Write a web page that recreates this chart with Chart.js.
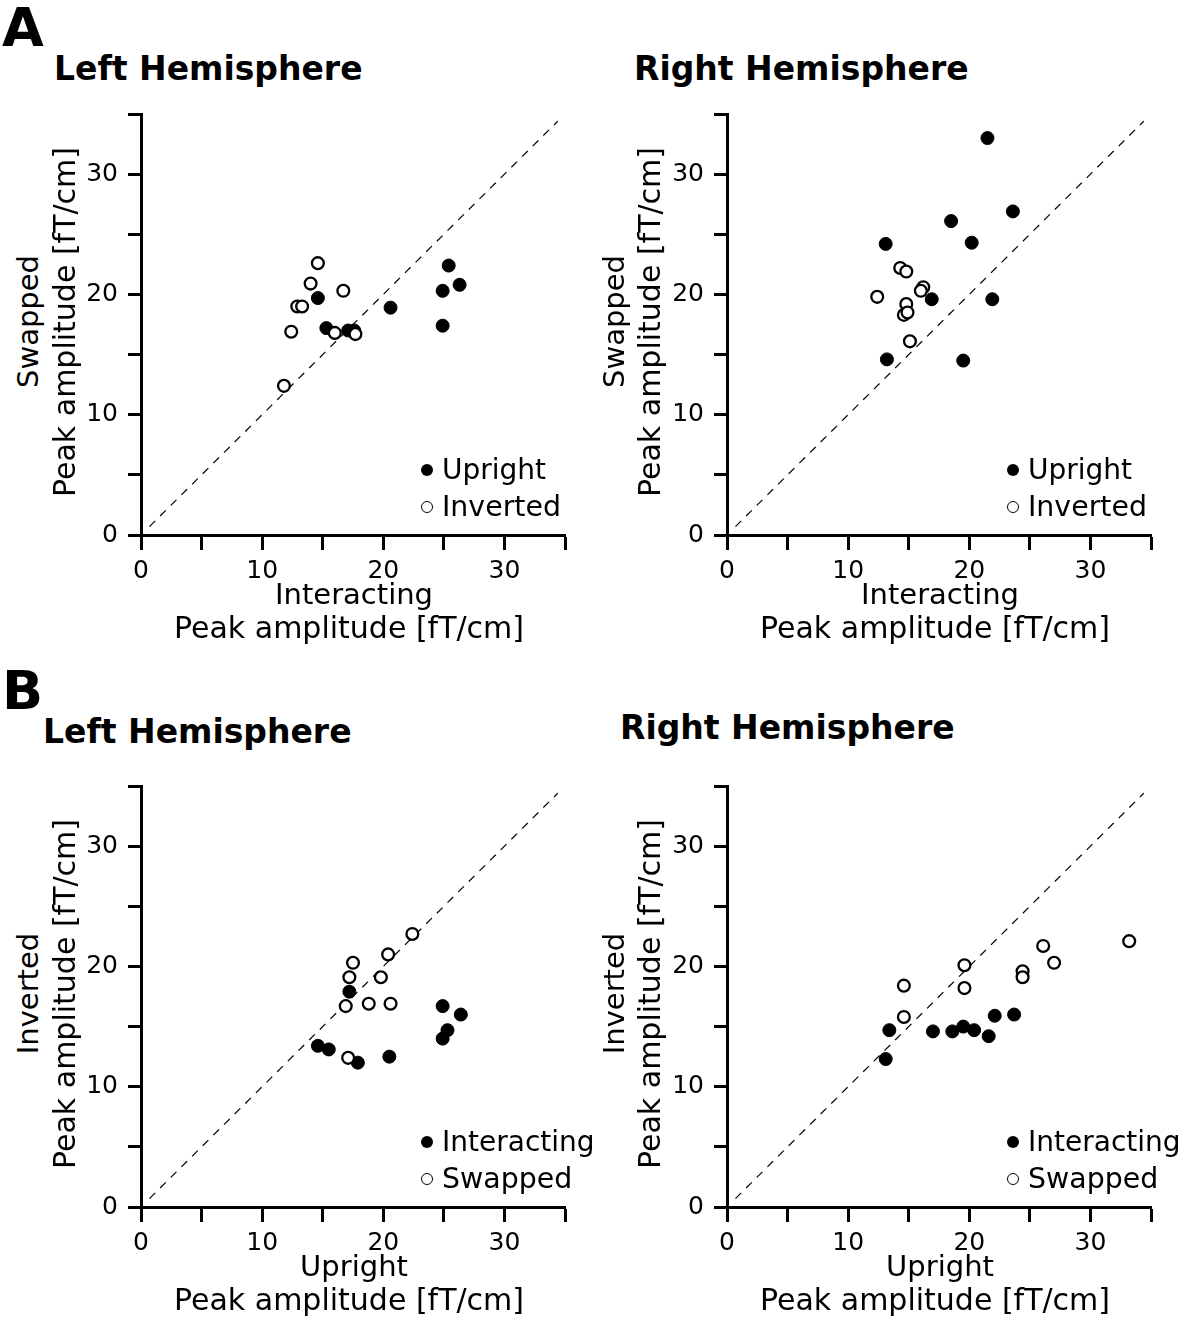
<!DOCTYPE html>
<html>
<head>
<meta charset="utf-8">
<script src="https://cdn.jsdelivr.net/npm/chart.js@4/dist/chart.umd.min.js"></script>
<style>
  body { margin: 0; background: #fff; }
  #page { position: relative; width: 1182px; height: 1318px; overflow: hidden; background: #fff;
          font-family: 'DejaVu Sans', Verdana, sans-serif; color: #000; }
  .txt { position: absolute; white-space: nowrap; line-height: 1; }
  .bold { font-weight: bold; }
  canvas { position: absolute; }
  .dot { position: absolute; border-radius: 50%; box-sizing: border-box; }
</style>
</head>
<body>
<div id="page"></div>
<script>
// ticks shared by every axis
const tickValues = [0, 5, 10, 15, 20, 25, 30, 35];
const tickLabels = ['0', '', '10', '', '20', '', '30', ''];

// A, left hemisphere: Interacting (x) vs Swapped (y)
const aLeftUprightX = [14.6, 15.3, 17.1, 17.6, 20.6, 25.4, 26.3, 24.9, 24.9];
const aLeftUprightY = [19.7, 17.2, 17.0, 17.0, 18.9, 22.4, 20.8, 20.3, 17.4];
const aLeftInvertedX = [14.6, 14.0, 16.7, 12.9, 13.3, 12.4, 16.0, 17.7, 11.8];
const aLeftInvertedY = [22.6, 20.9, 20.3, 19.0, 19.0, 16.9, 16.8, 16.7, 12.4];

// A, right hemisphere
const aRightUprightX = [21.5, 23.6, 18.5, 20.2, 13.1, 16.9, 21.9, 13.2, 19.5];
const aRightUprightY = [33.0, 26.9, 26.1, 24.3, 24.2, 19.6, 19.6, 14.6, 14.5];
const aRightInvertedX = [14.3, 14.8, 16.2, 16.0, 12.4, 14.8, 14.6, 14.9, 15.1];
const aRightInvertedY = [22.2, 21.9, 20.6, 20.3, 19.8, 19.2, 18.3, 18.5, 16.1];

// B, left hemisphere: Upright (x) vs Inverted (y)
const bLeftInteractingX = [17.2, 24.9, 26.4, 25.3, 24.9, 14.6, 15.5, 17.9, 20.5];
const bLeftInteractingY = [17.9, 16.7, 16.0, 14.7, 14.0, 13.4, 13.1, 12.0, 12.5];
const bLeftSwappedX = [22.4, 20.4, 17.5, 17.2, 19.8, 16.9, 18.8, 20.6, 17.1];
const bLeftSwappedY = [22.7, 21.0, 20.3, 19.1, 19.1, 16.7, 16.9, 16.9, 12.4];

// B, right hemisphere
const bRightInteractingX = [13.1, 13.4, 17.0, 18.6, 19.5, 20.4, 21.6, 22.1, 23.7];
const bRightInteractingY = [12.3, 14.7, 14.6, 14.6, 15.0, 14.7, 14.2, 15.9, 16.0];
const bRightSwappedX = [33.2, 26.1, 27.0, 24.4, 24.4, 19.6, 19.6, 14.6, 14.6];
const bRightSwappedY = [22.1, 21.7, 20.3, 19.6, 19.1, 20.1, 18.2, 18.4, 15.8];

const diagonal = [0.7, 34.4];

const panels = [
  { area: { left: 141, top: 114, right: 565, bottom: 535 }, title: 'Left Hemisphere', titleX: 54, titleBase: 80,
    xTitle: 'Interacting', yTitle: 'Swapped', filledName: 'Upright', openName: 'Inverted',
    filledX: aLeftUprightX, filledY: aLeftUprightY, openX: aLeftInvertedX, openY: aLeftInvertedY },
  { area: { left: 727, top: 114, right: 1151, bottom: 535 }, title: 'Right Hemisphere', titleX: 634, titleBase: 80,
    xTitle: 'Interacting', yTitle: 'Swapped', filledName: 'Upright', openName: 'Inverted',
    filledX: aRightUprightX, filledY: aRightUprightY, openX: aRightInvertedX, openY: aRightInvertedY },
  { area: { left: 141, top: 786, right: 565, bottom: 1207 }, title: 'Left Hemisphere', titleX: 43, titleBase: 743,
    xTitle: 'Upright', yTitle: 'Inverted', filledName: 'Interacting', openName: 'Swapped',
    filledX: bLeftInteractingX, filledY: bLeftInteractingY, openX: bLeftSwappedX, openY: bLeftSwappedY },
  { area: { left: 727, top: 786, right: 1151, bottom: 1207 }, title: 'Right Hemisphere', titleX: 620, titleBase: 739,
    xTitle: 'Upright', yTitle: 'Inverted', filledName: 'Interacting', openName: 'Swapped',
    filledX: bRightInteractingX, filledY: bRightInteractingY, openX: bRightSwappedX, openY: bRightSwappedY },
];

const page = document.getElementById('page');
const Y_AXIS_W = 61;
const X_AXIS_H = 60;
const PAD_TOP = 12;
const PAD_RIGHT = 16;

function main() {
  Chart.defaults.font.family = "'DejaVu Sans', Verdana, sans-serif";
  Chart.defaults.color = '#000';

  addText('A', 2, 47, 54, true);
  addText('B', 2, 710, 54, true);

  panels.forEach(drawPanel);
}

function toPoints(xs, ys) {
  return xs.map((x, i) => ({ x: x, y: ys[i] }));
}

function addText(text, left, baseline, size, bold) {
  const el = document.createElement('div');
  el.className = 'txt' + (bold ? ' bold' : '');
  el.textContent = text;
  el.style.fontSize = size + 'px';
  el.style.left = left + 'px';
  el.style.top = (baseline - 0.846 * size) + 'px';
  page.appendChild(el);
  return el;
}

function addCenteredText(text, cx, baseline, size) {
  const el = document.createElement('div');
  el.className = 'txt';
  el.textContent = text;
  el.style.fontSize = size + 'px';
  el.style.width = '600px';
  el.style.textAlign = 'center';
  el.style.left = (cx - 300) + 'px';
  el.style.top = (baseline - 0.846 * size) + 'px';
  page.appendChild(el);
}

function addRotatedText(text, capLeft, cy, size) {
  // rotated -90deg: glyph tops face left
  const el = document.createElement('div');
  el.className = 'txt';
  el.textContent = text;
  el.style.fontSize = size + 'px';
  el.style.width = '600px';
  el.style.height = size + 'px';
  el.style.textAlign = 'center';
  const cx = capLeft + 0.383 * size;
  el.style.left = (cx - 300) + 'px';
  el.style.top = (cy - size / 2) + 'px';
  el.style.transform = 'rotate(-90deg)';
  page.appendChild(el);
}

function addDot(cx, cy, filled) {
  const el = document.createElement('div');
  el.className = 'dot';
  const d = filled ? 12.5 : 12;
  el.style.width = d + 'px';
  el.style.height = d + 'px';
  el.style.left = (cx - d / 2) + 'px';
  el.style.top = (cy - d / 2) + 'px';
  el.style.background = filled ? '#000' : '#fff';
  if (!filled) el.style.border = '1.8px solid #000';
  page.appendChild(el);
}

function axisOptions(tickLength, padding, isX) {
  return {
    type: 'linear',
    min: 0,
    max: 35,
    afterFit: (s) => {
      // fixed box sizes so the plot area lands where the reference has it
      if (isX) s.height = X_AXIS_H; else s.width = Y_AXIS_W;
      s.paddingTop = 0;
      s.paddingBottom = 0;
      s.paddingLeft = 0;
      s.paddingRight = 0;
    },
    afterBuildTicks: (s) => { s.ticks = tickValues.map(v => ({ value: v })); },
    ticks: {
      autoSkip: false,
      maxRotation: 0,
      padding: padding,
      font: { size: 25 },
      color: '#000',
      callback: (value) => tickLabels[tickValues.indexOf(value)] ?? '',
    },
    grid: {
      display: true,
      drawOnChartArea: false,
      drawTicks: true,
      tickLength: tickLength,
      tickWidth: 3,
      tickColor: '#000',
    },
    border: { display: true, width: 3, color: '#000' },
  };
}

function drawPanel(p) {
  const a = p.area;
  const canvasLeft = a.left - Y_AXIS_W;
  const canvasTop = a.top - PAD_TOP;
  const width = a.right + PAD_RIGHT - canvasLeft;
  const height = a.bottom + X_AXIS_H - canvasTop;

  const canvas = document.createElement('canvas');
  canvas.width = width;
  canvas.height = height;
  canvas.style.left = canvasLeft + 'px';
  canvas.style.top = canvasTop + 'px';
  canvas.style.width = width + 'px';
  canvas.style.height = height + 'px';
  page.appendChild(canvas);

  new Chart(canvas, {
    type: 'scatter',
    data: {
      datasets: [
        {
          label: p.openName,
          data: toPoints(p.openX, p.openY),
          backgroundColor: '#fff',
          borderColor: '#000',
          borderWidth: 2.3,
          pointRadius: 5.9,
          order: 0,
        },
        {
          label: p.filledName,
          data: toPoints(p.filledX, p.filledY),
          backgroundColor: '#000',
          borderColor: '#000',
          borderWidth: 1,
          pointRadius: 6.5,
          order: 1,
        },
        {
          label: 'identity',
          data: toPoints(diagonal, diagonal),
          showLine: true,
          borderColor: '#000',
          borderWidth: 1.2,
          borderDash: [8, 7],
          pointRadius: 0,
          order: 2,
        },
      ],
    },
    options: {
      responsive: false,
      animation: false,
      events: [],
      layout: { padding: { top: PAD_TOP, right: PAD_RIGHT, left: 0, bottom: 0 } },
      plugins: {
        legend: { display: false },
        tooltip: { enabled: false },
      },
      scales: {
        x: axisOptions(15, 6, true),
        y: axisOptions(13, 10, false),
      },
    },
  });

  // panel title
  addText(p.title, p.titleX, p.titleBase, 33, true);

  // axis titles
  const cx = (a.left + a.right) / 2;
  addCenteredText(p.xTitle, cx + 1, a.bottom + 70, 29);
  addCenteredText('Peak amplitude [fT/cm]', cx - 4, a.bottom + 103, 30);
  const cy = (a.top + a.bottom) / 2 - 3;
  addRotatedText(p.yTitle, a.left - 124, cy, 29);
  addRotatedText('Peak amplitude [fT/cm]', a.left - 88, cy, 30);

  // legend in lower right corner
  const mx = a.right - 138;
  addDot(mx, a.bottom - 65, true);
  addText(p.filledName, mx + 15, a.bottom - 55, 28, false);
  addDot(mx, a.bottom - 28, false);
  addText(p.openName, mx + 15, a.bottom - 18, 28.4, false);
}

main();
</script>
</body>
</html>
